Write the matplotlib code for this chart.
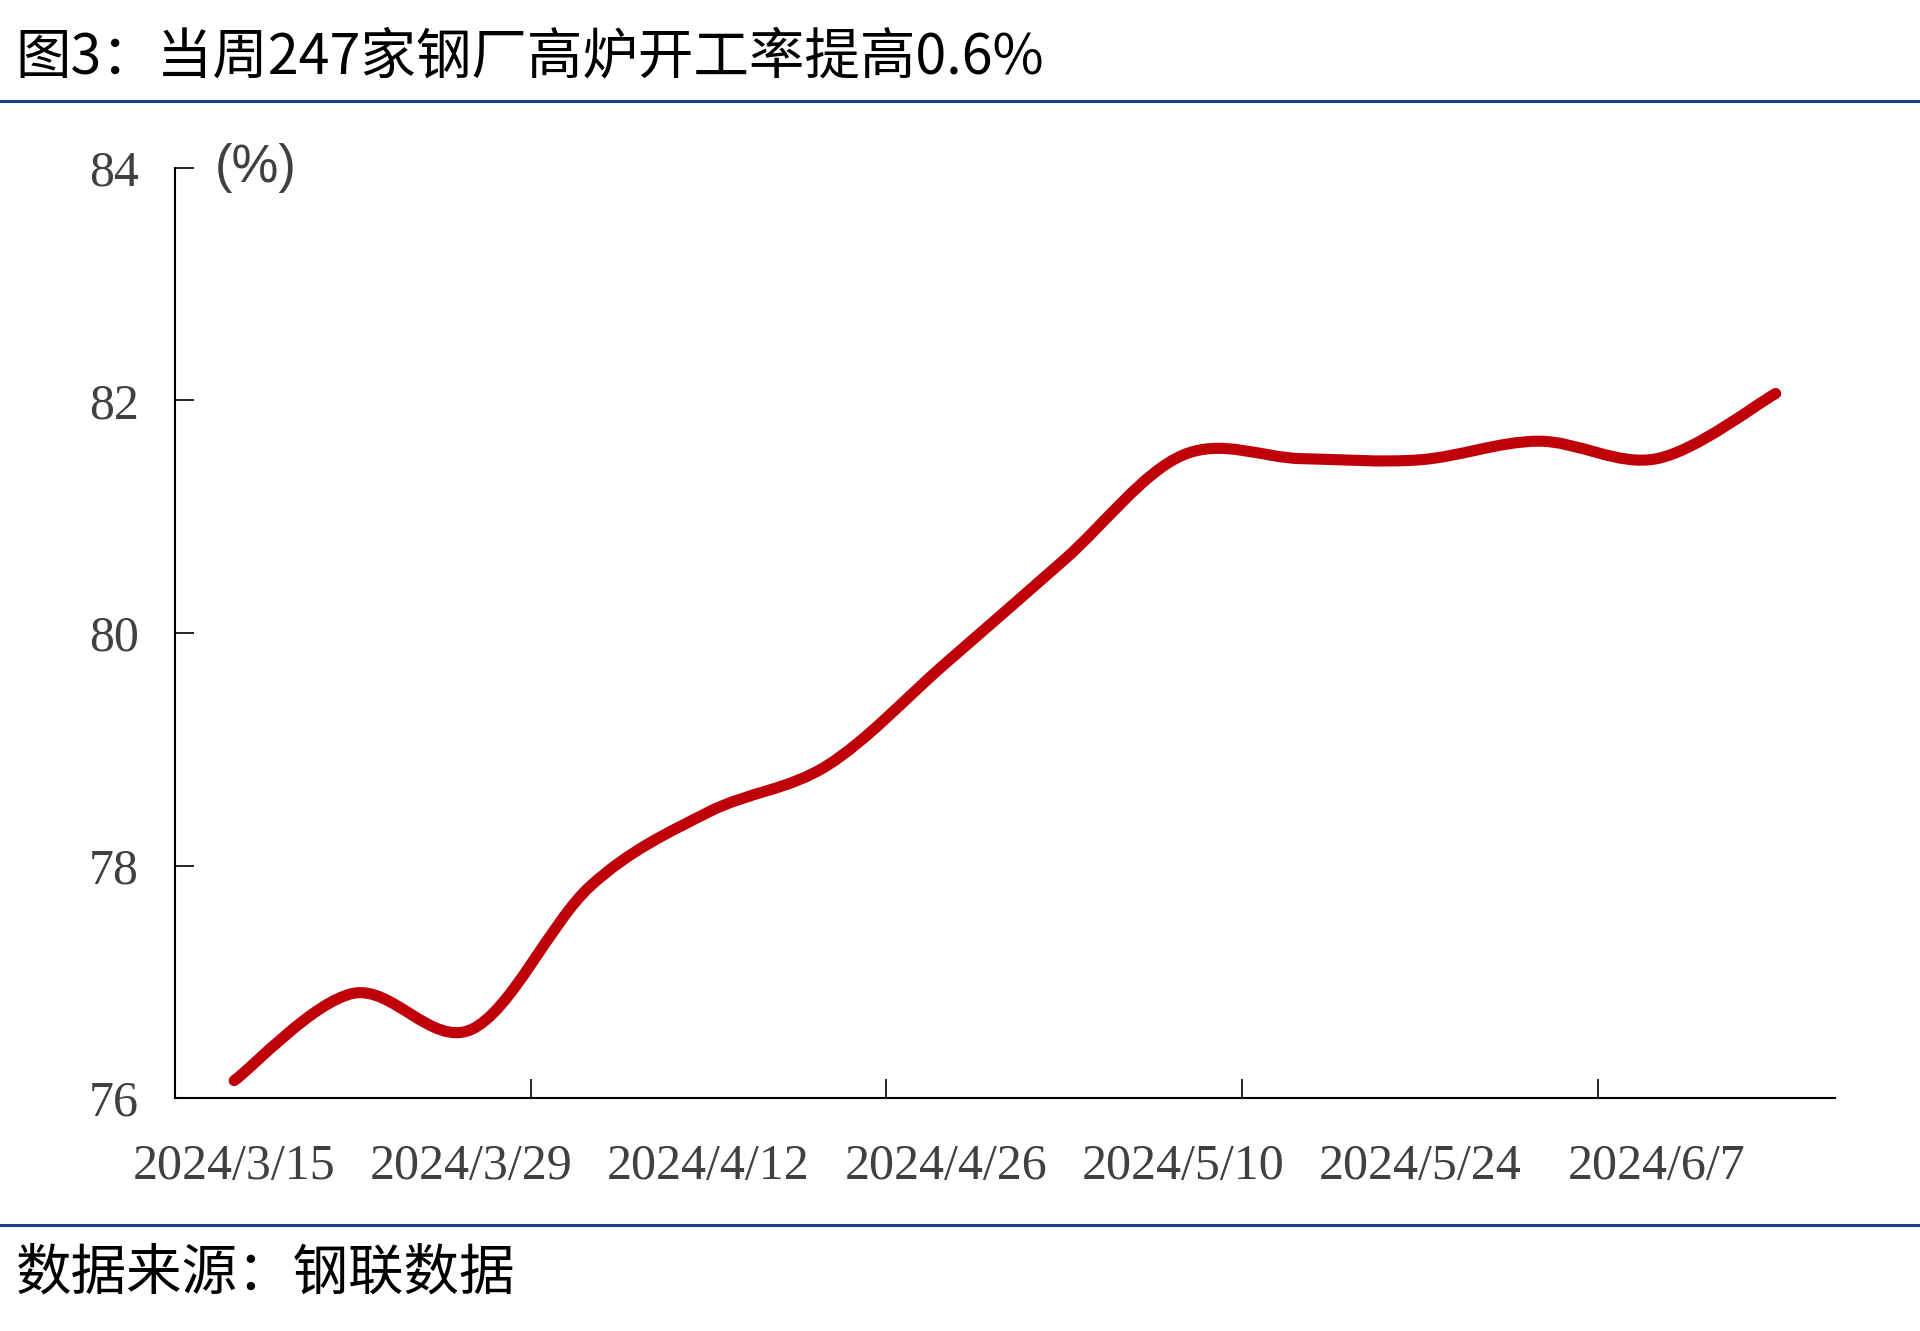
import numpy as np
import matplotlib.pyplot as plt
from matplotlib.path import Path
from matplotlib.patches import PathPatch

dates = ['2024/3/15', '2024/3/22', '2024/3/29', '2024/4/5', '2024/4/12', '2024/4/19',
         '2024/4/26', '2024/5/3', '2024/5/10', '2024/5/17', '2024/5/24', '2024/5/31',
         '2024/6/7', '2024/6/14']
rate = [76.15, 76.90, 76.59, 77.82, 78.46, 78.86, 79.74, 80.63, 81.53, 81.50,
        81.49, 81.65, 81.50, 82.06]

title = '图3：当周247家钢厂高炉开工率提高0.6%'
source = '数据来源：钢联数据'
blue = '#1b3f8b'
red = '#c00008'
cjk = ['Noto Sans CJK SC', 'DejaVu Sans']

fig = plt.figure(figsize=(19.2, 13.31), dpi=100)
ax = fig.add_axes([0.0911, 0.175, 0.8646, 0.6988])

# smooth line like Excel (Catmull-Rom through the weekly points)
x = np.arange(len(rate), dtype=float)
y = np.array(rate)
px = np.concatenate([[x[0]], x, [x[-1]]])
py = np.concatenate([[y[0]], y, [y[-1]]])
verts = [(x[0], y[0])]
codes = [Path.MOVETO]
for i in range(1, len(px) - 2):
    c1 = (px[i] + (px[i + 1] - px[i - 1]) / 6, py[i] + (py[i + 1] - py[i - 1]) / 6)
    c2 = (px[i + 1] - (px[i + 2] - px[i]) / 6, py[i + 1] - (py[i + 2] - py[i]) / 6)
    verts += [c1, c2, (px[i + 1], py[i + 1])]
    codes += [Path.CURVE4] * 3
ax.add_patch(PathPatch(Path(verts, codes), fill=False, edgecolor=red, lw=8,
                       capstyle='round', joinstyle='round'))

ax.set_xlim(-0.5, 13.5)
ax.set_ylim(76, 84)
ax.set_yticks([76, 78, 80, 82, 84])
ax.set_xticks(np.arange(-0.5, 13, 3))
ax.set_xticklabels([])
ax.set_xticks(x[::2], minor=True)
ax.set_xticklabels(dates[::2], minor=True)

for s in ['top', 'right']:
    ax.spines[s].set_visible(False)
for s in ['left', 'bottom']:
    ax.spines[s].set_linewidth(1.5)
    ax.spines[s].set_color('black')

ax.tick_params(axis='y', direction='in', length=14, width=1.2, pad=26,
               labelsize=36, labelcolor='#404040')
ax.tick_params(axis='x', which='major', direction='in', length=14, width=1.2)
ax.tick_params(axis='x', which='minor', length=0, pad=33, labelsize=36,
               labelcolor='#404040')
for lab in ax.get_yticklabels() + ax.get_xticklabels(minor=True):
    lab.set_fontfamily('Liberation Serif')

ax.text(0.024, 1.0, '(%)', transform=ax.transAxes, fontsize=38,
        family='Liberation Sans', color='#404040', va='center', ha='left')

fig.text(0.008, 0.957, title, fontsize=40, family=cjk, va='center', ha='left')
fig.text(0.008, 0.043, source, fontsize=40, family=cjk, va='center', ha='left')
fig.add_artist(plt.Line2D([0, 1], [1 - 101 / 1331] * 2, color=blue, lw=2.2,
                          transform=fig.transFigure))
fig.add_artist(plt.Line2D([0, 1], [1 - 1225 / 1331] * 2, color=blue, lw=2.2,
                          transform=fig.transFigure))

fig.savefig('out.png', dpi=100)
